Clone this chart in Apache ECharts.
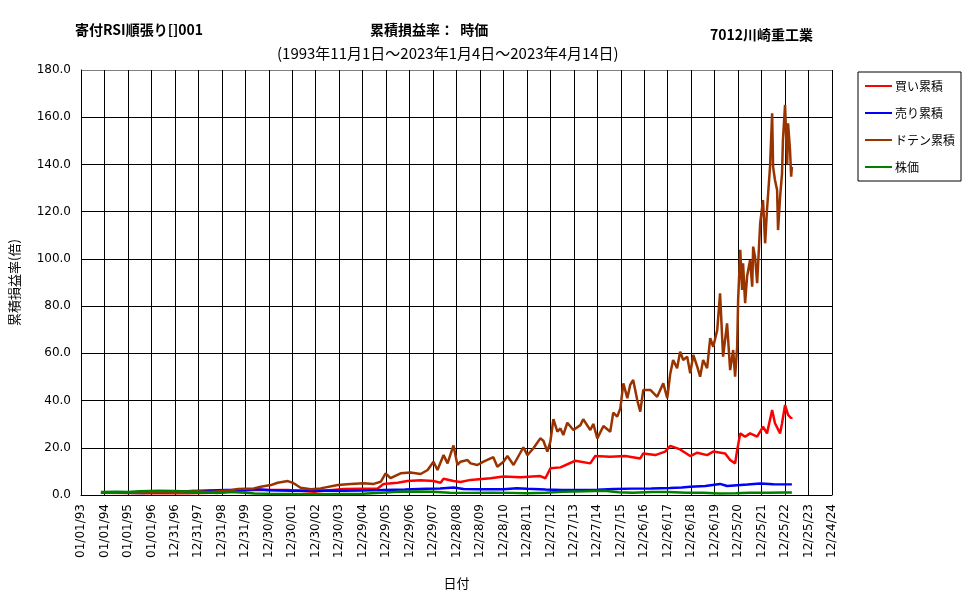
<!DOCTYPE html>
<html>
<head>
<meta charset="utf-8">
<script src="https://cdn.jsdelivr.net/npm/echarts@6/dist/echarts.min.js"></script>
<style>
  html, body { margin: 0; padding: 0; background: #fff; }
  #chart { width: 970px; height: 600px; }
</style>
</head>
<body>
<div id="chart"></div>
<script>
  // 日付は 1993 年からの小数年で持つ (軸は 365 日刻み)
  const redYears = [1993.85, 1995.0, 1996.0, 1997.5, 1998.8, 1999.68, 2000.36, 2001.81, 2002.91, 2004.19, 2005.64, 2005.89, 2006.49, 2006.91, 2007.47, 2008.02, 2008.32, 2008.45, 2008.87, 2009.17, 2009.6, 2010.45, 2011.0, 2011.72, 2012.57, 2012.79, 2013.0, 2013.43, 2014.06, 2014.7, 2014.91, 2015.55, 2016.19, 2016.83, 2016.96, 2017.47, 2017.89, 2018.11, 2018.53, 2018.96, 2019.26, 2019.68, 2019.94, 2020.45, 2020.66, 2020.87, 2020.96, 2021.09, 2021.3, 2021.51, 2021.81, 2022.06, 2022.23, 2022.45, 2022.57, 2022.79, 2022.87, 2023.0, 2023.13, 2023.26, 2023.29]
  const redVals = [1.0, 0.8, 0.7, 0.7, 1.0, 1.7, 2.1, 2.1, 1.4, 2.5, 2.8, 4.7, 5.2, 5.9, 6.2, 5.9, 5.2, 6.9, 5.9, 5.5, 6.4, 7.1, 7.8, 7.5, 8.0, 7.1, 11.3, 11.7, 14.5, 13.4, 16.5, 16.2, 16.5, 15.5, 17.6, 16.9, 18.4, 20.8, 19.3, 16.5, 17.9, 16.9, 18.4, 17.6, 14.8, 13.4, 19.0, 26.1, 24.7, 26.1, 24.7, 28.9, 26.1, 36.0, 30.4, 26.1, 30.4, 38.1, 33.9, 32.5, 33.0]

  const blueYears = [1993.85, 1994.8, 1995.64, 1996.5, 1997.5, 1998.4, 1999.2, 2000.0, 2000.5, 2001.1, 2002.0, 2003.0, 2004.2, 2005.0, 2005.9, 2006.8, 2007.7, 2008.3, 2008.87, 2009.3, 2010.0, 2011.0, 2011.57, 2012.0, 2012.8, 2013.5, 2014.3, 2014.98, 2015.7, 2016.5, 2017.3, 2018.1, 2018.6, 2018.96, 2019.6, 2020.23, 2020.53, 2020.96, 2021.4, 2021.94, 2022.5, 2023.29]
  const blueVals = [1.0, 1.0, 0.8, 1.2, 1.6, 1.9, 2.1, 2.2, 2.4, 2.0, 1.8, 1.9, 1.8, 1.9, 2.1, 2.3, 2.6, 2.8, 3.2, 2.5, 2.4, 2.4, 2.9, 2.6, 2.3, 2.1, 2.1, 2.2, 2.5, 2.7, 2.8, 3.0, 3.2, 3.5, 3.8, 4.7, 3.8, 4.1, 4.4, 4.9, 4.6, 4.5]

  const dotenYears = [1993.85, 1995.5, 1997.0, 1997.77, 1998.5, 1999.38, 1999.68, 2000.36, 2000.66, 2001.09, 2001.38, 2001.81, 2002.06, 2002.36, 2002.79, 2003.21, 2003.94, 2004.49, 2005.04, 2005.47, 2005.77, 2005.98, 2006.19, 2006.62, 2007.04, 2007.47, 2007.77, 2008.02, 2008.19, 2008.45, 2008.62, 2008.87, 2009.04, 2009.17, 2009.47, 2009.6, 2009.89, 2010.15, 2010.57, 2010.74, 2011.0, 2011.17, 2011.43, 2011.72, 2011.85, 2012.02, 2012.28, 2012.57, 2012.7, 2012.87, 2013.0, 2013.13, 2013.3, 2013.43, 2013.55, 2013.72, 2013.98, 2014.28, 2014.4, 2014.7, 2014.83, 2015.0, 2015.26, 2015.55, 2015.68, 2015.85, 2015.98, 2016.11, 2016.28, 2016.4, 2016.53, 2016.7, 2016.83, 2016.96, 2017.26, 2017.55, 2017.81, 2017.98, 2018.11, 2018.23, 2018.4, 2018.53, 2018.66, 2018.83, 2018.96, 2019.09, 2019.26, 2019.38, 2019.51, 2019.68, 2019.81, 2019.94, 2020.11, 2020.23, 2020.36, 2020.53, 2020.66, 2020.79, 2020.87, 2020.96, 2021.0, 2021.09, 2021.17, 2021.21, 2021.3, 2021.38, 2021.51, 2021.6, 2021.64, 2021.72, 2021.81, 2021.94, 2022.06, 2022.15, 2022.23, 2022.36, 2022.45, 2022.49, 2022.57, 2022.66, 2022.7, 2022.79, 2022.87, 2022.91, 2023.0, 2023.09, 2023.13, 2023.21, 2023.26, 2023.29]
  const dotenVals = [1.0, 1.0, 1.2, 1.7, 1.3, 2.0, 2.5, 2.8, 3.5, 4.2, 5.2, 5.9, 5.0, 3.1, 2.4, 2.8, 4.2, 4.7, 5.0, 4.7, 5.6, 9.2, 7.1, 9.2, 9.5, 8.9, 10.6, 14.1, 10.6, 16.9, 13.4, 21.0, 12.7, 14.1, 14.8, 13.4, 12.7, 14.1, 16.0, 12.0, 14.1, 16.5, 12.7, 17.9, 20.2, 16.9, 19.8, 24.0, 23.0, 18.4, 22.6, 32.1, 26.8, 28.2, 25.4, 30.6, 27.5, 29.6, 32.1, 27.5, 30.1, 24.0, 29.2, 26.8, 34.9, 33.2, 36.7, 47.3, 41.0, 46.6, 48.7, 40.2, 35.3, 44.5, 44.5, 41.6, 47.3, 41.0, 51.5, 57.2, 53.7, 60.7, 57.2, 58.6, 51.5, 59.3, 54.3, 50.1, 57.2, 53.7, 66.4, 62.8, 69.9, 85.4, 58.6, 72.7, 52.9, 61.4, 50.1, 62.8, 82.6, 103.8, 86.8, 98.1, 81.2, 92.5, 99.5, 88.2, 105.2, 100.9, 89.7, 115.1, 124.9, 106.6, 120.7, 139.0, 161.7, 139.0, 133.4, 129.2, 112.2, 126.3, 136.2, 150.4, 165.2, 140.0, 157.4, 146.1, 134.8, 139.0]

  const stockYears = [1993.85, 1994.5, 1995.0, 1995.5, 1996.3, 1997.0, 1997.6, 1998.3, 1998.8, 1999.4, 2000.0, 2000.4, 2001.0, 2002.0, 2003.0, 2004.0, 2005.0, 2005.8, 2006.5, 2007.3, 2008.0, 2008.7, 2009.5, 2010.5, 2011.3, 2012.0, 2012.8, 2013.5, 2014.5, 2015.3, 2015.9, 2016.5, 2017.3, 2018.0, 2018.8, 2019.5, 2020.2, 2020.9, 2021.5, 2022.3, 2023.0, 2023.29]
  const stockVals = [1.3, 1.4, 1.3, 1.6, 1.8, 1.7, 1.5, 1.2, 0.8, 1.3, 1.0, 0.6, 0.5, 0.4, 0.3, 0.4, 0.5, 1.0, 1.4, 1.5, 1.4, 1.0, 0.9, 1.0, 0.9, 0.7, 1.0, 1.4, 1.6, 1.8, 1.2, 1.0, 1.3, 1.3, 1.0, 1.0, 0.6, 0.7, 1.0, 1.0, 1.1, 1.1]

  const seriesNames = ['買い累積', '売り累積', 'ドテン累積', '株価']
  const seriesColors = ['#ff0000', '#0000ff', '#993300', '#008000']

  const baseYear = 1993
  const dayMs = 86400000
  const jp = '"Noto Sans CJK JP", "Noto Sans", sans-serif'

  function toPairs(years, vals) {
    return years.map((y, i) => [Math.round((y - baseYear) * 365), vals[i]])
  }

  function pad2(n) {
    return (n < 10 ? '0' : '') + n
  }

  const chart = echarts.init(document.getElementById('chart'))

  const allData = [
    toPairs(redYears, redVals),
    toPairs(blueYears, blueVals),
    toPairs(dotenYears, dotenVals),
    toPairs(stockYears, stockVals)
  ]

  const series = seriesNames.map((name, i) => ({
    name: name,
    type: 'line',
    symbol: 'none',
    data: allData[i],
    lineStyle: { color: seriesColors[i], width: 2.5 },
    itemStyle: { color: seriesColors[i] },
    z: 3
  }))

  chart.setOption({
    animation: false,
    textStyle: { fontFamily: jp },
    title: [
      { text: '寄付RSI順張り[]001', left: 75, top: 23, padding: 0, textStyle: { fontSize: 14, fontWeight: 'bold', color: '#000', fontFamily: jp } },
      { text: '累積損益率：  時価', left: 370, top: 23, padding: 0, textStyle: { fontSize: 14, fontWeight: 'bold', color: '#000', fontFamily: jp } },
      { text: '7012川崎重工業', left: 710, top: 28, padding: 0, textStyle: { fontSize: 14, fontWeight: 'bold', color: '#000', fontFamily: jp } },
      { text: '(1993年11月1日～2023年1月4日～2023年4月14日)', left: 277, top: 46, padding: 0, textStyle: { fontSize: 15, fontWeight: 'normal', color: '#000', fontFamily: jp } }
    ],
    legend: {
      data: seriesNames,
      orient: 'vertical',
      left: 858,
      top: 72,
      icon: 'rect',
      itemWidth: 27,
      itemHeight: 2,
      itemGap: 11,
      itemStyle: { borderWidth: 0 },
      padding: [6, 6, 6, 7],
      borderColor: '#000',
      borderWidth: 1,
      textStyle: { fontSize: 12, color: '#000', lineHeight: 16, fontFamily: jp, padding: [0, 0, 0, -2] }
    },
    grid: { left: 80, right: 138, top: 70, bottom: 105 },
    xAxis: {
      type: 'value',
      min: 0,
      max: 11680,
      interval: 365,
      name: '日付',
      nameLocation: 'middle',
      nameGap: 82,
      nameTextStyle: { fontSize: 13, color: '#000', fontFamily: jp },
      axisLine: { lineStyle: { color: '#000', width: 1 } },
      axisTick: { show: false },
      splitLine: { show: true, lineStyle: { color: '#000', width: 1 } },
      axisLabel: {
        rotate: 90,
        margin: 9,
        fontSize: 12,
        color: '#000',
        fontFamily: '"DejaVu Sans", sans-serif',
        formatter: function (v) {
          const d = new Date(Date.UTC(baseYear, 0, 1) + v * dayMs)
          return pad2(d.getUTCMonth() + 1) + '/' + pad2(d.getUTCDate()) + '/' + pad2(d.getUTCFullYear() % 100)
        }
      }
    },
    yAxis: {
      type: 'value',
      min: 0,
      max: 180,
      interval: 20,
      name: '累積損益率(倍)',
      nameLocation: 'middle',
      nameRotate: 90,
      nameGap: 60,
      nameTextStyle: { fontSize: 13, color: '#000', fontFamily: jp },
      axisLine: { show: true, lineStyle: { color: '#000', width: 1 } },
      axisTick: { show: false },
      splitLine: {
        show: true,
        lineStyle: { color: ['#000', '#000', '#000', '#000', '#000', '#000', '#000', '#000', '#000', '#808080'], width: 1 }
      },
      axisLabel: {
        margin: 10,
        fontSize: 12,
        color: '#000',
        fontFamily: '"DejaVu Sans", sans-serif',
        formatter: function (v) { return v.toFixed(1) }
      }
    },
    series: series
  })
</script>
</body>
</html>
